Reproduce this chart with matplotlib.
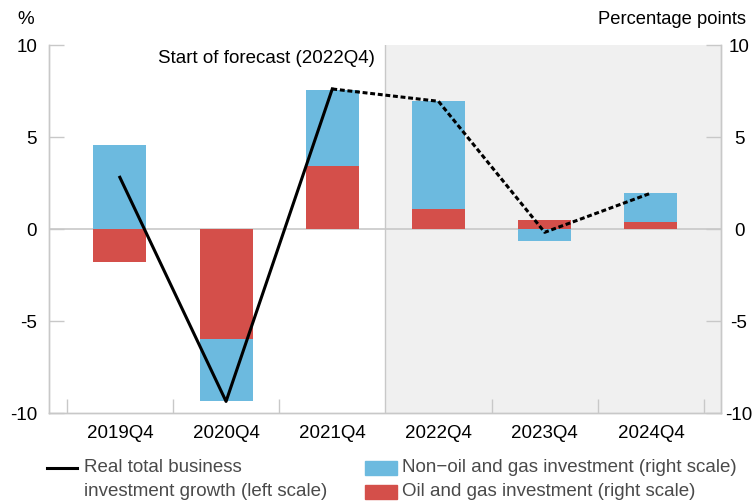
import numpy as np
import matplotlib
matplotlib.use("Agg")
import matplotlib.pyplot as plt
from matplotlib.lines import Line2D
from matplotlib.patches import Rectangle

plt.rcParams['font.family'] = ['Liberation Sans', 'DejaVu Sans']
plt.rcParams['axes.unicode_minus'] = False

# data
quarters = ['2019Q4', '2020Q4', '2021Q4', '2022Q4', '2023Q4', '2024Q4']
oil_gas = [-1.78, -5.98, 3.41, 1.09, 0.49, 0.36]
non_oil = [4.57, -3.35, 4.16, 5.85, -0.67, 1.58]
total_growth = [2.81, -9.37, 7.61, 6.94, -0.18, 1.95]
forecast_start = 3  # index of 2022Q4

blue = '#6cbadf'
red = '#d44f4a'
grey = '#c8c8c8'
txt = '#4a4a4a'
fs = 13.5

W, H = 752, 504
fig = plt.figure(figsize=(W / 100, H / 100), dpi=100)
ax = fig.add_axes([49 / W, 1 - 413 / H, (721 - 49) / W, (413 - 45) / H])

x = np.arange(len(quarters))
oil = np.array(oil_gas)
non = np.array(non_oil)
# stack: non-oil sits on top of oil when same sign, otherwise from zero
base = np.where(np.sign(non) == np.sign(oil), oil, 0)

ax.axvspan(forecast_start - 0.5, 5.7, color='#f0f0f0', zorder=0, lw=0)
ax.axvline(forecast_start - 0.5, color=grey, lw=1, zorder=1)
ax.axhline(0, color=grey, lw=1.2, zorder=1)

ax.bar(x, oil, width=0.5, color=red, zorder=2)
ax.bar(x, non, bottom=base, width=0.5, color=blue, zorder=2)

ax.plot(x[:forecast_start], total_growth[:forecast_start], color='black', lw=2.2, zorder=4)
ax.plot(x[forecast_start - 1:], total_growth[forecast_start - 1:], color='black', lw=2.2,
        linestyle=(0, (1.6, 0.9)), zorder=4)

ax.set_xlim(-0.667, 5.66)
ax.set_ylim(-10, 10)
ax.set_xticks(x)
ax.set_xticklabels(quarters)
ax.set_xticks(np.array([-0.5, 0.5, 1.5, 3.5, 4.5, 5.5]), minor=True)
ax.tick_params(axis='x', which='major', length=0, pad=9, labelsize=fs)
ax.tick_params(axis='x', which='minor', direction='in', length=10, color=grey, width=1)
ax.set_yticks([-10, -5, 0, 5, 10])
ax.set_yticklabels(['-10', '-5', '0', '5', '10'])
ax.tick_params(axis='y', direction='in', length=11, color=grey, width=1, pad=8.5, labelsize=fs)

ax2 = ax.twinx()
ax2.set_ylim(-10, 10)
ax2.set_yticks([-10, -5, 0, 5, 10])
ax2.set_yticklabels(['-10', '-5', '0', '5', '10'], ha='center')
ax2.tick_params(axis='y', direction='in', length=11, color=grey, width=1, pad=13, labelsize=fs)

for a in (ax, ax2):
    a.spines['top'].set_visible(False)
    for s in ('left', 'right', 'bottom'):
        a.spines[s].set_color(grey)
        a.spines[s].set_linewidth(1)

ax.text(2.4, 9.25, 'Start of forecast (2022Q4)', ha='right', va='center', fontsize=fs)
fig.text(17 / W, 1 - 20 / H, '%', ha='left', va='center', fontsize=fs)
fig.text(746 / W, 1 - 20 / H, 'Percentage points', ha='right', va='center', fontsize=13.2)

# legend
fig.add_artist(Line2D([47 / W, 77 / W], [1 - 468 / H] * 2, color='black', lw=2.2))
fig.text(84 / W, 1 - 468 / H, 'Real total business', va='center', fontsize=fs, color=txt)
fig.text(84 / W, 1 - 492 / H, 'investment growth (left scale)', va='center', fontsize=fs,
         color=txt)
fig.add_artist(Rectangle((365 / W, 1 - 475 / H), 32 / W, 14.5 / H, color=blue,
                         transform=fig.transFigure))
fig.add_artist(Rectangle((365 / W, 1 - 498.5 / H), 32 / W, 14 / H, color=red,
                         transform=fig.transFigure))
fig.text(402 / W, 1 - 468 / H, 'Non\u2212oil and gas investment (right scale)', va='center',
         fontsize=fs, color=txt)
fig.text(402 / W, 1 - 492 / H, 'Oil and gas investment (right scale)', va='center',
         fontsize=fs, color=txt)

fig.savefig('out.png', dpi=100)
